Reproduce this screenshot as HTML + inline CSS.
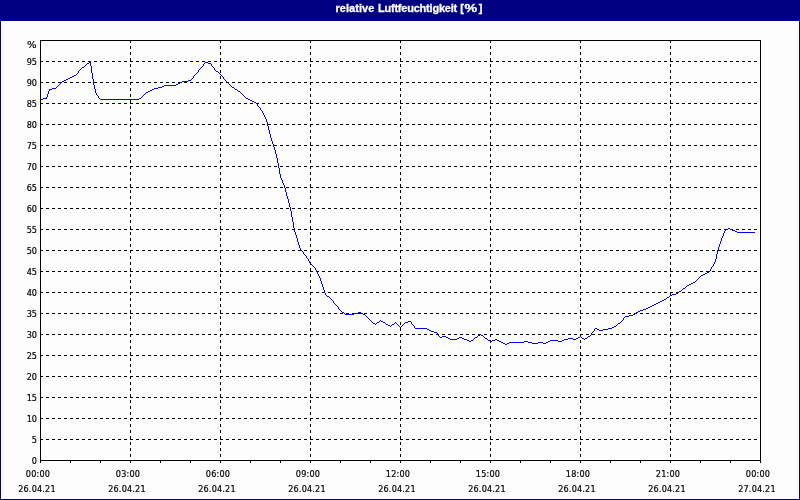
<!DOCTYPE html>
<html><head><meta charset="utf-8"><title>relative Luftfeuchtigkeit</title>
<style>
html,body{margin:0;padding:0;}
body{width:800px;height:500px;overflow:hidden;background:#000080;position:relative;font-family:"Liberation Sans",sans-serif;}
#panel{position:absolute;left:1px;top:21px;width:798px;height:478px;background:#fdfdfd;}
#title{position:absolute;left:335.4px;top:1px;text-align:left;-webkit-text-stroke:0.3px #fff;color:#fff;font-weight:bold;font-size:11px;line-height:14px;letter-spacing:0px;white-space:nowrap;}
svg{position:absolute;left:0;top:0;}
.t1{letter-spacing:0.05px}.t2{letter-spacing:-0.22px;margin-left:0.6px}.t3{letter-spacing:0;margin-left:0.2px}.pc{display:inline-block;transform:scaleX(1.3);margin:0 2.4px 0 2.6px}
.yl{position:absolute;left:0;width:37px;text-align:right;font-family:"DejaVu Sans Condensed","Liberation Sans",sans-serif;font-size:9px;line-height:12px;letter-spacing:0;color:#000;-webkit-text-stroke:0.2px #000;}
.xl{position:absolute;width:60px;text-align:center;font-family:"DejaVu Sans Condensed","Liberation Sans",sans-serif;font-size:9px;line-height:12px;letter-spacing:0.2px;color:#000;white-space:nowrap;-webkit-text-stroke:0.2px #000;}
</style></head><body>
<div id="panel"></div>
<div id="title"><span class="t1">relative</span> <span class="t2">Luftfeuchtigkeit</span> <span class="t3">[<span class="pc">%</span>]</span></div>
<svg width="800" height="500" viewBox="0 0 800 500">
<g stroke="#000" stroke-width="1" stroke-dasharray="3 3" shape-rendering="crispEdges" fill="none">
<line x1="40" y1="439.5" x2="760" y2="439.5"/>
<line x1="40" y1="418.5" x2="760" y2="418.5"/>
<line x1="40" y1="397.5" x2="760" y2="397.5"/>
<line x1="40" y1="376.5" x2="760" y2="376.5"/>
<line x1="40" y1="355.5" x2="760" y2="355.5"/>
<line x1="40" y1="334.5" x2="760" y2="334.5"/>
<line x1="40" y1="313.5" x2="760" y2="313.5"/>
<line x1="40" y1="292.5" x2="760" y2="292.5"/>
<line x1="40" y1="271.5" x2="760" y2="271.5"/>
<line x1="40" y1="250.5" x2="760" y2="250.5"/>
<line x1="40" y1="229.5" x2="760" y2="229.5"/>
<line x1="40" y1="208.5" x2="760" y2="208.5"/>
<line x1="40" y1="187.5" x2="760" y2="187.5"/>
<line x1="40" y1="166.5" x2="760" y2="166.5"/>
<line x1="40" y1="145.5" x2="760" y2="145.5"/>
<line x1="40" y1="124.5" x2="760" y2="124.5"/>
<line x1="40" y1="103.5" x2="760" y2="103.5"/>
<line x1="40" y1="82.5" x2="760" y2="82.5"/>
<line x1="40" y1="61.5" x2="760" y2="61.5"/>
<line x1="130.5" y1="40" x2="130.5" y2="460"/>
<line x1="220.5" y1="40" x2="220.5" y2="460"/>
<line x1="310.5" y1="40" x2="310.5" y2="460"/>
<line x1="400.5" y1="40" x2="400.5" y2="460"/>
<line x1="490.5" y1="40" x2="490.5" y2="460"/>
<line x1="580.5" y1="40" x2="580.5" y2="460"/>
<line x1="670.5" y1="40" x2="670.5" y2="460"/>
</g>
<g stroke="#000" stroke-width="1" shape-rendering="crispEdges" fill="none">
<rect x="40.5" y="40.5" width="720" height="420"/>
<line x1="40.5" y1="460" x2="40.5" y2="463"/>
<line x1="70.5" y1="460" x2="70.5" y2="463"/>
<line x1="100.5" y1="460" x2="100.5" y2="463"/>
<line x1="130.5" y1="460" x2="130.5" y2="463"/>
<line x1="160.5" y1="460" x2="160.5" y2="463"/>
<line x1="190.5" y1="460" x2="190.5" y2="463"/>
<line x1="220.5" y1="460" x2="220.5" y2="463"/>
<line x1="250.5" y1="460" x2="250.5" y2="463"/>
<line x1="280.5" y1="460" x2="280.5" y2="463"/>
<line x1="310.5" y1="460" x2="310.5" y2="463"/>
<line x1="340.5" y1="460" x2="340.5" y2="463"/>
<line x1="370.5" y1="460" x2="370.5" y2="463"/>
<line x1="400.5" y1="460" x2="400.5" y2="463"/>
<line x1="430.5" y1="460" x2="430.5" y2="463"/>
<line x1="460.5" y1="460" x2="460.5" y2="463"/>
<line x1="490.5" y1="460" x2="490.5" y2="463"/>
<line x1="520.5" y1="460" x2="520.5" y2="463"/>
<line x1="550.5" y1="460" x2="550.5" y2="463"/>
<line x1="580.5" y1="460" x2="580.5" y2="463"/>
<line x1="610.5" y1="460" x2="610.5" y2="463"/>
<line x1="640.5" y1="460" x2="640.5" y2="463"/>
<line x1="670.5" y1="460" x2="670.5" y2="463"/>
<line x1="700.5" y1="460" x2="700.5" y2="463"/>
<line x1="730.5" y1="460" x2="730.5" y2="463"/>
<line x1="760.5" y1="460" x2="760.5" y2="463"/>
</g>
<path fill="#0000ff" stroke="none" shape-rendering="crispEdges" d="M40 99h3v1h-3zM43 98h4v1h-4zM46 97h1v1h-1zM47 94h1v3h-1zM48 91h1v3h-1zM49 90h1v1h-1zM49 89h3v1h-3zM52 88h4v1h-4zM56 87h1v1h-1zM57 86h1v1h-1zM58 85h1v1h-1zM59 84h1v1h-1zM60 83h1v1h-1zM61 82h1v1h-1zM62 81h2v1h-2zM64 80h2v1h-2zM66 79h2v1h-2zM68 78h2v1h-2zM70 77h2v1h-2zM72 76h2v1h-2zM74 75h2v1h-2zM76 74h1v1h-1zM77 73h1v1h-1zM78 71h1v2h-1zM79 70h1v1h-1zM80 69h1v1h-1zM81 68h1v1h-1zM82 67h2v1h-2zM84 66h1v1h-1zM85 65h1v1h-1zM86 64h1v1h-1zM87 63h2v1h-2zM89 62h2v1h-2zM90 61h1v1h-1zM90 63h1v3h-1zM91 66h1v7h-1zM92 73h1v6h-1zM93 79h1v6h-1zM94 85h1v4h-1zM95 89h1v4h-1zM96 93h1v2h-1zM97 95h1v1h-1zM98 96h1v2h-1zM99 98h1v1h-1zM100 99h39v1h-39zM139 98h2v1h-2zM141 97h1v1h-1zM142 96h1v1h-1zM143 95h1v1h-1zM144 94h1v1h-1zM145 93h1v1h-1zM146 92h2v1h-2zM148 91h2v1h-2zM150 90h2v1h-2zM152 89h2v1h-2zM154 88h4v1h-4zM158 87h4v1h-4zM162 86h2v1h-2zM164 85h12v1h-12zM176 84h2v1h-2zM178 83h2v1h-2zM180 82h2v1h-2zM182 81h6v1h-6zM188 80h3v1h-3zM191 79h1v1h-1zM192 78h1v1h-1zM193 76h1v2h-1zM194 75h1v1h-1zM195 74h1v1h-1zM196 73h1v1h-1zM197 72h1v1h-1zM198 70h1v2h-1zM199 69h1v1h-1zM200 68h1v1h-1zM201 67h1v1h-1zM202 66h1v1h-1zM203 64h1v2h-1zM204 63h1v1h-1zM205 62h3v1h-3zM208 63h3v1h-3zM211 64h1v2h-1zM212 66h1v1h-1zM213 67h1v1h-1zM214 68h1v2h-1zM215 70h1v1h-1zM216 71h2v1h-2zM218 72h1v1h-1zM219 73h1v1h-1zM220 74h1v1h-1zM221 75h1v1h-1zM222 76h1v1h-1zM223 77h1v2h-1zM224 79h1v1h-1zM225 80h1v1h-1zM226 81h1v1h-1zM227 82h1v1h-1zM228 83h1v1h-1zM229 84h1v1h-1zM230 85h1v1h-1zM231 86h1v1h-1zM232 87h2v1h-2zM234 88h1v1h-1zM235 89h2v1h-2zM237 90h1v1h-1zM238 91h2v1h-2zM240 92h1v1h-1zM241 93h1v1h-1zM242 94h1v1h-1zM243 95h1v1h-1zM244 96h1v1h-1zM245 97h1v1h-1zM246 98h2v1h-2zM248 99h2v1h-2zM250 100h2v1h-2zM252 101h2v1h-2zM254 102h2v1h-2zM256 103h1v1h-1zM257 104h1v2h-1zM258 106h1v1h-1zM259 107h1v1h-1zM260 108h1v2h-1zM261 110h1v1h-1zM262 111h1v2h-1zM263 113h1v2h-1zM264 115h1v2h-1zM265 117h1v2h-1zM266 119h1v3h-1zM267 122h1v4h-1zM268 126h1v4h-1zM269 130h1v4h-1zM270 134h1v4h-1zM271 138h1v3h-1zM272 141h1v3h-1zM273 144h1v3h-1zM274 147h1v3h-1zM275 150h1v4h-1zM276 154h1v4h-1zM277 158h1v5h-1zM278 163h1v5h-1zM279 168h1v6h-1zM280 174h1v4h-1zM281 178h1v2h-1zM282 180h1v3h-1zM283 183h1v2h-1zM284 185h1v3h-1zM285 188h1v4h-1zM286 192h1v4h-1zM287 196h1v3h-1zM288 199h1v4h-1zM289 203h1v4h-1zM290 207h1v4h-1zM291 211h1v6h-1zM292 217h1v5h-1zM293 222h1v6h-1zM294 228h1v4h-1zM295 232h1v3h-1zM296 235h1v3h-1zM297 238h1v4h-1zM298 242h1v3h-1zM299 245h1v3h-1zM300 248h1v2h-1zM301 250h1v1h-1zM302 251h1v1h-1zM303 252h1v2h-1zM304 254h1v1h-1zM305 255h1v1h-1zM306 256h1v2h-1zM307 258h1v1h-1zM308 259h1v2h-1zM309 261h1v2h-1zM310 263h1v1h-1zM311 264h1v1h-1zM312 265h1v1h-1zM313 266h1v1h-1zM314 267h1v1h-1zM315 268h1v2h-1zM316 270h1v2h-1zM317 272h1v2h-1zM318 274h1v2h-1zM319 276h1v2h-1zM320 278h1v3h-1zM321 281h1v3h-1zM322 284h1v3h-1zM323 287h1v3h-1zM324 290h1v3h-1zM325 293h1v2h-1zM326 295h1v1h-1zM327 296h2v1h-2zM329 297h1v1h-1zM330 298h1v1h-1zM331 299h1v1h-1zM332 300h1v1h-1zM333 301h1v2h-1zM334 303h1v1h-1zM335 304h1v1h-1zM336 305h1v1h-1zM337 306h1v1h-1zM338 307h1v2h-1zM339 309h1v1h-1zM340 310h1v1h-1zM341 311h1v1h-1zM342 312h2v1h-2zM344 313h1v1h-1zM345 314h9v1h-9zM354 313h4v1h-4zM358 312h3v1h-3zM361 313h2v1h-2zM363 314h2v1h-2zM365 315h1v1h-1zM366 316h1v1h-1zM367 317h1v1h-1zM368 318h1v1h-1zM369 319h1v1h-1zM370 320h1v1h-1zM371 321h1v1h-1zM372 322h1v1h-1zM373 323h2v1h-2zM375 324h1v1h-1zM376 323h1v1h-1zM377 322h2v1h-2zM379 321h1v1h-1zM380 320h1v1h-1zM381 321h2v1h-2zM383 322h2v1h-2zM385 323h1v1h-1zM386 324h2v1h-2zM388 325h2v1h-2zM390 326h1v1h-1zM391 325h1v1h-1zM392 324h2v1h-2zM394 323h1v1h-1zM395 322h1v1h-1zM396 323h1v1h-1zM397 324h1v1h-1zM398 325h1v1h-1zM399 326h1v1h-1zM400 327h1v1h-1zM401 326h1v1h-1zM402 325h1v1h-1zM403 324h1v1h-1zM404 323h1v1h-1zM405 322h3v1h-3zM408 321h3v1h-3zM411 322h1v2h-1zM412 324h1v1h-1zM413 325h1v1h-1zM414 326h1v2h-1zM415 328h12v1h-12zM427 329h2v1h-2zM429 330h2v1h-2zM431 331h3v1h-3zM434 332h3v1h-3zM437 333h1v1h-1zM438 334h1v2h-1zM439 336h1v1h-1zM440 337h2v1h-2zM442 336h4v1h-4zM446 337h2v1h-2zM448 338h2v1h-2zM450 339h7v1h-7zM457 338h2v1h-2zM459 337h3v1h-3zM462 338h2v1h-2zM464 339h3v1h-3zM467 340h2v1h-2zM469 341h2v1h-2zM471 340h2v1h-2zM473 339h1v1h-1zM474 338h1v1h-1zM475 337h2v1h-2zM477 336h1v1h-1zM478 335h2v1h-2zM480 334h1v1h-1zM481 335h2v1h-2zM483 336h1v1h-1zM484 337h1v1h-1zM485 338h2v1h-2zM487 339h1v1h-1zM488 340h2v1h-2zM490 341h2v1h-2zM492 340h3v1h-3zM495 339h2v1h-2zM497 340h2v1h-2zM499 341h2v1h-2zM501 342h2v1h-2zM503 343h2v1h-2zM505 344h2v1h-2zM507 343h2v1h-2zM509 342h15v1h-15zM524 341h4v1h-4zM528 342h4v1h-4zM532 343h6v1h-6zM538 342h5v1h-5zM543 343h3v1h-3zM546 342h2v1h-2zM548 341h2v1h-2zM550 340h8v1h-8zM558 341h4v1h-4zM562 340h2v1h-2zM564 339h4v1h-4zM568 338h5v1h-5zM573 339h3v1h-3zM576 338h2v1h-2zM578 337h2v1h-2zM580 336h1v1h-1zM581 337h1v1h-1zM582 338h2v1h-2zM584 339h1v1h-1zM585 338h2v1h-2zM587 337h1v1h-1zM588 336h2v1h-2zM590 335h1v1h-1zM591 333h1v2h-1zM592 332h1v1h-1zM593 331h1v1h-1zM594 329h1v2h-1zM595 328h2v1h-2zM597 329h2v1h-2zM599 330h4v1h-4zM603 329h5v1h-5zM608 328h4v1h-4zM612 327h2v1h-2zM614 326h2v1h-2zM616 325h1v1h-1zM617 324h1v1h-1zM618 323h2v1h-2zM620 322h1v1h-1zM621 321h1v1h-1zM622 320h1v1h-1zM623 318h1v2h-1zM624 317h1v1h-1zM625 316h4v1h-4zM629 315h4v1h-4zM633 314h2v1h-2zM635 313h1v1h-1zM636 312h2v1h-2zM638 311h2v1h-2zM640 310h3v1h-3zM643 309h3v1h-3zM646 308h2v1h-2zM648 307h2v1h-2zM650 306h2v1h-2zM652 305h2v1h-2zM654 304h2v1h-2zM656 303h2v1h-2zM658 302h2v1h-2zM660 301h2v1h-2zM662 300h2v1h-2zM664 299h2v1h-2zM666 298h1v1h-1zM667 297h2v1h-2zM669 296h1v1h-1zM670 295h2v1h-2zM672 294h4v1h-4zM676 293h2v1h-2zM678 292h1v1h-1zM679 291h2v1h-2zM681 290h1v1h-1zM682 289h1v1h-1zM683 288h2v1h-2zM685 287h1v1h-1zM686 286h1v1h-1zM687 285h2v1h-2zM689 284h2v1h-2zM691 283h2v1h-2zM693 282h2v1h-2zM695 281h1v1h-1zM696 280h1v1h-1zM697 279h1v1h-1zM698 278h1v1h-1zM699 277h1v1h-1zM700 276h1v1h-1zM701 275h2v1h-2zM703 274h2v1h-2zM705 273h2v1h-2zM707 272h2v1h-2zM709 271h1v1h-1zM710 269h1v2h-1zM711 267h1v2h-1zM712 266h1v1h-1zM713 264h1v2h-1zM714 262h1v2h-1zM715 259h1v3h-1zM716 254h1v5h-1zM717 250h1v4h-1zM718 247h1v3h-1zM719 244h1v3h-1zM720 241h1v3h-1zM721 238h1v3h-1zM722 236h1v2h-1zM723 233h1v3h-1zM724 231h1v2h-1zM725 230h1v1h-1zM726 229h2v1h-2zM728 228h2v1h-2zM730 229h2v1h-2zM732 230h3v1h-3zM735 231h2v1h-2zM737 232h18v1h-18z"/>
</svg>
<div class="yl" style="top:455px">0</div>
<div class="yl" style="top:434px">5</div>
<div class="yl" style="top:413px">10</div>
<div class="yl" style="top:392px">15</div>
<div class="yl" style="top:371px">20</div>
<div class="yl" style="top:350px">25</div>
<div class="yl" style="top:329px">30</div>
<div class="yl" style="top:308px">35</div>
<div class="yl" style="top:287px">40</div>
<div class="yl" style="top:266px">45</div>
<div class="yl" style="top:245px">50</div>
<div class="yl" style="top:224px">55</div>
<div class="yl" style="top:203px">60</div>
<div class="yl" style="top:182px">65</div>
<div class="yl" style="top:161px">70</div>
<div class="yl" style="top:140px">75</div>
<div class="yl" style="top:119px">80</div>
<div class="yl" style="top:98px">85</div>
<div class="yl" style="top:77px">90</div>
<div class="yl" style="top:56px">95</div>
<div class="yl" style="top:39px;left:0px"><span style="display:inline-block;transform:scaleX(1.25);transform-origin:100% 50%">%</span></div>
<div class="xl" style="left:8px;top:468px">00:00</div>
<div class="xl" style="left:7px;top:483px">26.04.21</div>
<div class="xl" style="left:98px;top:468px">03:00</div>
<div class="xl" style="left:97px;top:483px">26.04.21</div>
<div class="xl" style="left:188px;top:468px">06:00</div>
<div class="xl" style="left:187px;top:483px">26.04.21</div>
<div class="xl" style="left:278px;top:468px">09:00</div>
<div class="xl" style="left:277px;top:483px">26.04.21</div>
<div class="xl" style="left:368px;top:468px">12:00</div>
<div class="xl" style="left:367px;top:483px">26.04.21</div>
<div class="xl" style="left:458px;top:468px">15:00</div>
<div class="xl" style="left:457px;top:483px">26.04.21</div>
<div class="xl" style="left:548px;top:468px">18:00</div>
<div class="xl" style="left:547px;top:483px">26.04.21</div>
<div class="xl" style="left:638px;top:468px">21:00</div>
<div class="xl" style="left:637px;top:483px">26.04.21</div>
<div class="xl" style="left:728px;top:468px">00:00</div>
<div class="xl" style="left:727px;top:483px">27.04.21</div>
</body></html>
